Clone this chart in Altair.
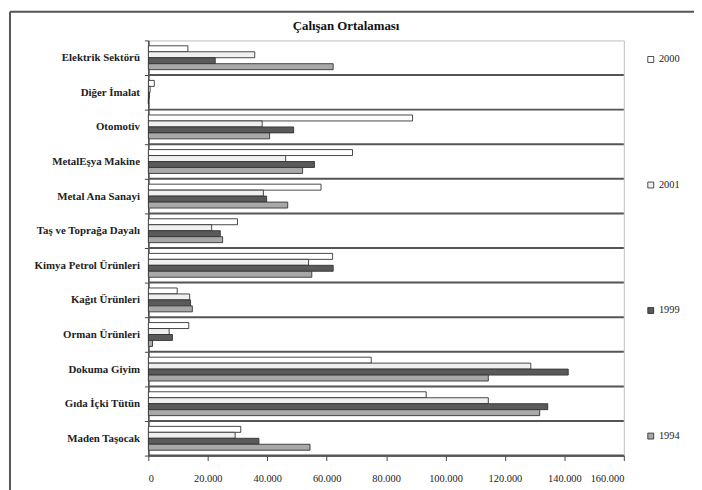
import altair as alt
import pandas as pd

categories = ["Elektrik Sektörü", "Diğer İmalat", "Otomotiv", "MetalEşya Makine",
              "Metal Ana Sanayi", "Taş ve Toprağa Dayalı", "Kimya Petrol Ürünleri",
              "Kağıt Ürünleri", "Orman Ürünleri", "Dokuma Giyim", "Gıda İçki Tütün",
              "Maden Taşocak"]
series = ["2000", "2001", "1999", "1994"]
v2000 = [13300, 2000, 88900, 68700, 58100, 30000, 62000, 9700, 13600, 75000, 93500, 31100]
v2001 = [35800, 600, 38300, 46200, 38700, 21300, 53900, 13900, 7000, 128700, 114400, 29200]
v1999 = [22500, 300, 48900, 55900, 39800, 24200, 62200, 14200, 8100, 141300, 134400, 37200]
v1994 = [62200, 0, 40800, 51900, 46900, 25000, 55000, 14800, 1400, 114400, 131700, 54400]
colors = ["#ffffff", "#f0f0f0", "#5a5a5a", "#a8a8a8"]
x_ticks = [0, 20000, 40000, 60000, 80000, 100000, 120000, 140000, 160000]
title_text = "Çalışan Ortalaması"

rows = []
for s, vals in zip(series, [v2000, v2001, v1999, v1994]):
    for c, v in zip(categories, vals):
        rows.append({"kategori": c, "yil": s, "deger": v})
df = pd.DataFrame(rows)
cat_df = pd.DataFrame({"kategori": categories})

FONT = "Liberation Serif"

y_enc = alt.Y("kategori:N", sort=categories,
              scale=alt.Scale(paddingInner=0, paddingOuter=0),
              axis=alt.Axis(title=None, tickBand="extent", tickSize=4,
                            labelFont=FONT, labelFontSize=11, labelFontWeight="bold",
                            labelColor="#222", labelPadding=5,
                            domainColor="#444", domainWidth=1.5, tickColor="#444",
                            grid=False))

bars = alt.Chart(df).mark_bar(stroke="#333", strokeWidth=0.9).encode(
    x=alt.X("deger:Q", scale=alt.Scale(domain=[0, 160000], nice=False),
            axis=alt.Axis(title=None, values=x_ticks, grid=False,
                          labelExpr="replace(format(datum.value, ','), ',', '.')",
                          labelFont=FONT, labelFontSize=10.5, labelColor="#222",
                          labelPadding=13, tickSize=5, domainColor="#444",
                          domainWidth=1.5, tickColor="#444")),
    y=y_enc,
    yOffset=alt.YOffset("yil:N", sort=series,
                        scale=alt.Scale(paddingOuter=0.9, paddingInner=0)),
    color=alt.Color("yil:N", sort=series,
                    scale=alt.Scale(domain=series, range=colors),
                    legend=alt.Legend(title=None, orient="none", legendX=503, legendY=14,
                                      symbolType="square", symbolSize=36,
                                      symbolStrokeColor="#222", symbolStrokeWidth=0.8,
                                      labelFont=FONT, labelFontSize=10.5, labelColor="#222",
                                      rowPadding=116, labelOffset=3)),
)

seps = alt.Chart(cat_df).mark_rule(color="#555", strokeWidth=2).encode(
    y=alt.Y("kategori:N", sort=categories, bandPosition=1)
)

frame_df = pd.DataFrame({"k": [0]})
frame_left = alt.Chart(frame_df).mark_rule(color="#555", strokeWidth=2).encode(
    x=alt.value(-140), y=alt.value(-29), y2=alt.value(470))
frame_top = alt.Chart(frame_df).mark_rule(color="#555", strokeWidth=2).encode(
    x=alt.value(-140), x2=alt.value(570), y=alt.value(-29))
title_mark = alt.Chart(frame_df).mark_text(
    font=FONT, fontSize=13, fontWeight="bold", color="#111",
    align="center", baseline="alphabetic").encode(
    x=alt.value(200), y=alt.value(-11), text=alt.value(title_text))

chart = alt.layer(seps, bars, frame_left, frame_top, title_mark).properties(
    width=481, height=420,
    autosize=alt.AutoSizeParams(type="none"),
    padding={"left": 142, "top": 30, "right": 71, "bottom": 32},
).configure_view(stroke="#bdbdbd", strokeWidth=1)

chart.save("out.html", embed_options={"renderer": "svg", "actions": False})
